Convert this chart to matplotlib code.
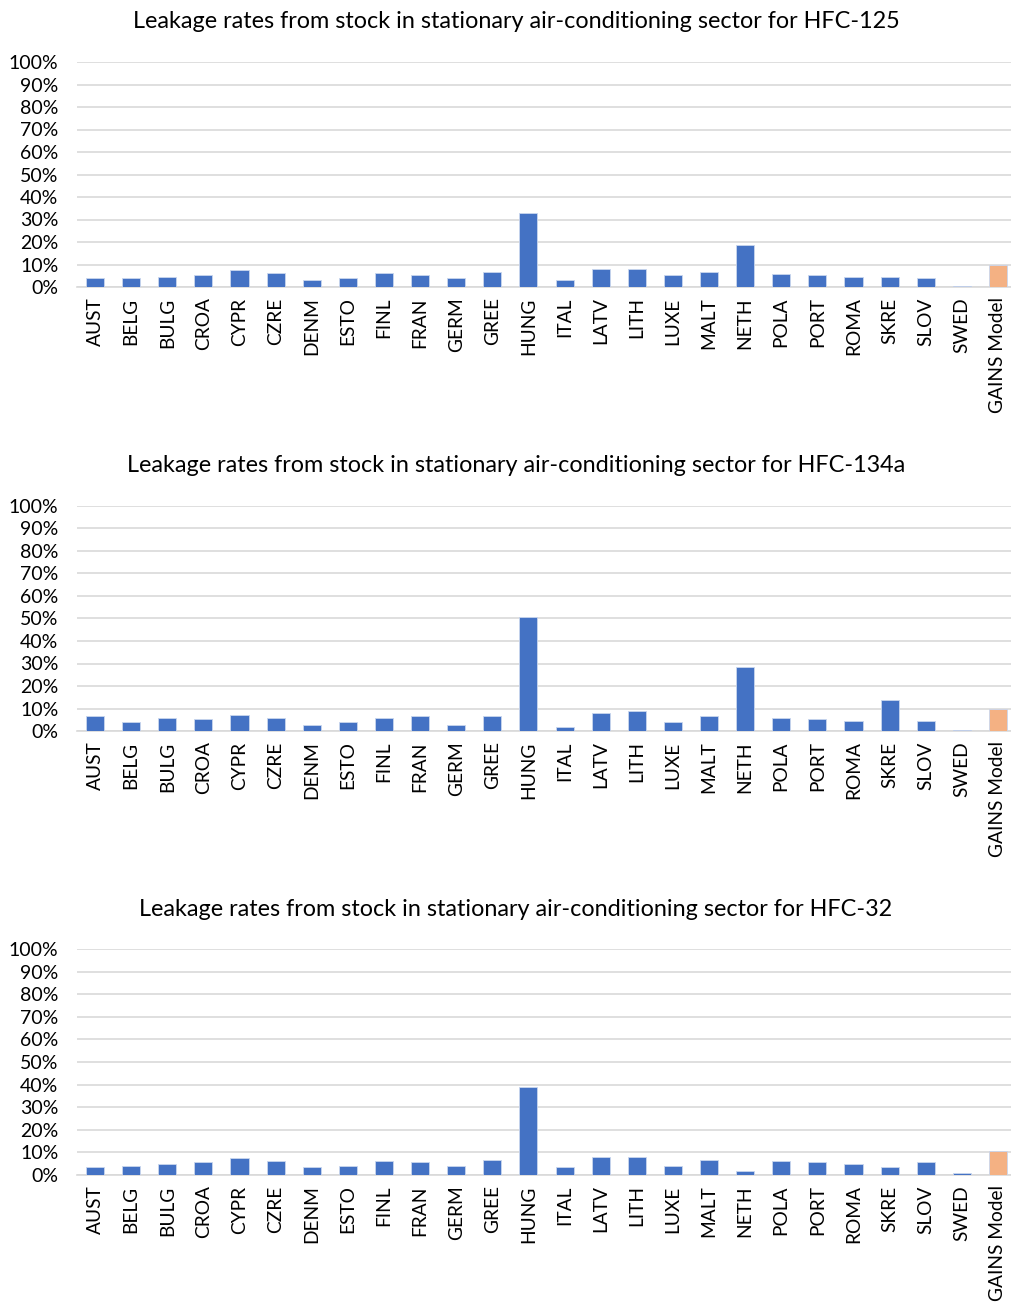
import numpy as np
import matplotlib.pyplot as plt
from matplotlib.ticker import FuncFormatter

plt.rcParams['font.family'] = ['Lato', 'DejaVu Sans']

countries = ['AUST', 'BELG', 'BULG', 'CROA', 'CYPR', 'CZRE', 'DENM', 'ESTO', 'FINL',
             'FRAN', 'GERM', 'GREE', 'HUNG', 'ITAL', 'LATV', 'LITH', 'LUXE', 'MALT',
             'NETH', 'POLA', 'PORT', 'ROMA', 'SKRE', 'SLOV', 'SWED', 'GAINS Model']

hfc125 = [4.0, 4.0, 4.6, 5.4, 7.4, 6.2, 3.2, 4.0, 6.2, 5.4, 4.0, 6.8, 33.0,
          3.2, 8.0, 8.0, 5.3, 6.6, 18.5, 6.0, 5.3, 4.5, 4.5, 3.9, 0.5, 10.0]
hfc134a = [6.6, 4.0, 6.0, 5.2, 7.3, 6.0, 2.7, 4.0, 6.0, 6.6, 2.7, 6.6, 50.8,
           2.0, 8.0, 8.7, 4.0, 6.6, 28.4, 6.0, 5.4, 4.6, 13.9, 4.6, 0.6, 10.0]
hfc32 = [3.6, 4.1, 4.9, 5.6, 7.6, 6.2, 3.6, 4.1, 6.2, 5.6, 4.1, 6.8, 39.0,
         3.6, 8.1, 8.1, 4.1, 6.8, 1.6, 6.2, 5.6, 4.9, 3.6, 5.6, 1.0, 10.5]

titles = ['Leakage rates from stock in stationary air-conditioning sector for HFC-125',
          'Leakage rates from stock in stationary air-conditioning sector for HFC-134a',
          'Leakage rates from stock in stationary air-conditioning sector for HFC-32']
series = [hfc125, hfc134a, hfc32]

W, H = 1011, 1306
fig = plt.figure(figsize=(W / 100, H / 100), dpi=100)

# pixel rows: (title y, 100% line, 0% line)
rows = [(22, 62, 287), (466, 506, 731), (909, 949, 1175)]
left, right = 77, 1016

blue = '#4472C4'
orange = '#F4B183'

for (ty, top, bot), vals, title in zip(rows, series, titles):
    ax = fig.add_axes([left / W, 1 - bot / H, (right - left) / W, (bot - top) / H])
    x = np.arange(len(countries))
    colors = [blue] * (len(countries) - 1) + [orange]
    ax.bar(x, vals, width=0.5, color=colors, edgecolor='#C9D6EE', linewidth=0.6, zorder=3)
    ax.set_xlim(-0.5, len(countries) - 0.5)
    ax.set_ylim(0, 100)
    ax.set_yticks(np.arange(0, 101, 10))
    ax.yaxis.set_major_formatter(FuncFormatter(lambda v, p: '%d%%' % v))
    ax.grid(axis='y', color='#D9D9D9', linewidth=1.2, zorder=0)
    ax.set_xticks(x)
    ax.set_xticklabels(countries, rotation=90, fontsize=13.8)
    ax.tick_params(axis='y', length=0, pad=13.5, labelsize=14)
    ax.tick_params(axis='x', length=0, pad=7.5)
    for s in ['top', 'left', 'right']:
        ax.spines[s].set_visible(False)
    ax.spines['bottom'].set_color('#D9D9D9')
    ax.spines['bottom'].set_linewidth(1.2)
    fig.text(516 / W, 1 - ty / H, title, ha='center', va='center', fontsize=16.8)

fig.savefig('out.png', dpi=100)
